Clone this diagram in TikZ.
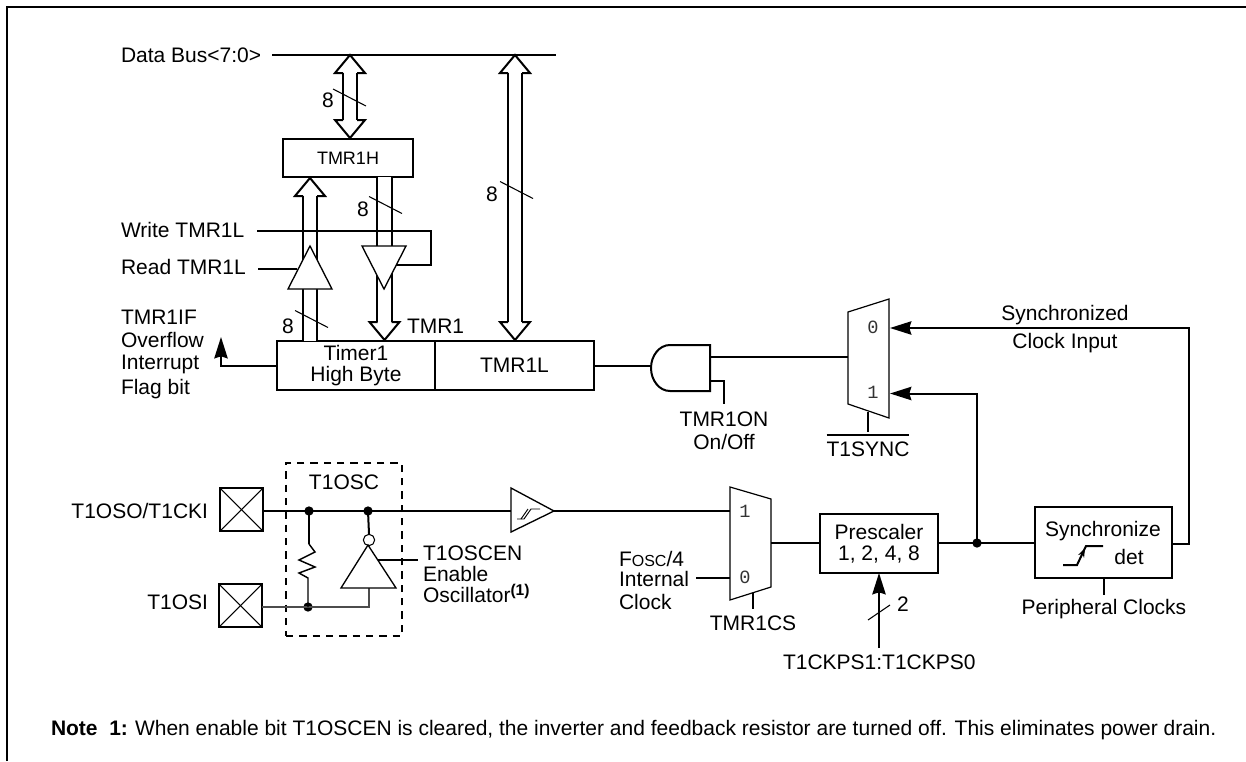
\documentclass[tikz,border=0pt]{standalone}
\usepackage{fontspec}
\setmainfont{Liberation Sans}
\setmonofont{Liberation Mono}
\usetikzlibrary{arrows.meta}

\newcommand{\txtfont}{\fontsize{15.75}{15.75}\selectfont}

\begin{document}
\begin{tikzpicture}[x=0.75pt, y=-0.75pt, >={Stealth[length=16pt, width=10pt, inset=1.5pt]},
    wire/.style={line width=1.5pt},
    thinwire/.style={line width=0.8pt},
    txt/.style={inner sep=0pt, outer sep=0pt, font=\txtfont, text height=11.3pt, text depth=0pt},
    regbox/.style={draw, line width=1.5pt, inner sep=0pt, outer sep=0pt, font=\txtfont, align=center},
    padbox/.style={draw, line width=1.5pt, inner sep=0pt, outer sep=0pt, minimum size=32pt},
    dot/.style={circle, fill=black, inner sep=0pt, outer sep=0pt, minimum size=7pt},
    gate/.style={draw, line width=1pt, fill=white},
    muxline/.style={draw, line width=0.9pt, fill=white},
    digit/.style={inner sep=0pt, font=\ttfamily\fontsize{14}{14}\selectfont, text=black!80},
    busline/.style={double, double distance=9.5pt, line width=1.5pt},
    pics/bustip/.style={code={\draw[wire] (-7,18) -- (-15,18) -- (0,0) -- (15,18) -- (7,18);}},
    pics/slash/.style={code={\draw[thinwire] (-16.5,-8.5) -- (16.5,8.5);}}]

\useasboundingbox (0,0) rectangle (1246,761);

% outer frame, open on two sides
\draw[wire] (6.5,761) -- (6.5,6.5) -- (1246,6.5);

% ── TOP: data bus and registers ───────────────────────────────────
\node[txt, anchor=west] (dbus) at (121,55) {Data Bus<7:0>};
\coordinate (dbusL) at (272,55);
\coordinate (dbusR) at (556,55);
\draw[wire] (dbusL) -- (dbusR);

\node[regbox, minimum width=97.5pt, minimum height=28.5pt, font=\fontsize{13.5}{14}\selectfont] (tmrh) at (348,158) {TMR1H};
\node[regbox, minimum width=118.5pt, minimum height=36.75pt] (timerhi) at (356,365.5) {Timer1\\High Byte};
\node[regbox, minimum width=119.25pt, minimum height=36.75pt] (tmrl) at (514.5,365.5) {TMR1L};

% hollow 8 bit buses
\coordinate (busAt) at (350,55);
\coordinate (busAb) at (350,138);
\draw[busline, shorten >=13.5pt, shorten <=13.5pt] (busAt) -- (busAb);
\pic at (busAt) {bustip};
\pic[yscale=-1] at (busAb) {bustip};

\coordinate (busBt) at (310,178);
\coordinate (busBb) at (310,341);
\draw[busline, shorten <=13.5pt] (busBt) -- (busBb);
\pic at (busBt) {bustip};

\coordinate (busCt) at (384.5,177);
\coordinate (busCb) at (384.5,340);
\draw[busline, shorten >=13.5pt] (busCt) -- (busCb);
\pic[yscale=-1] at (busCb) {bustip};

\coordinate (busDt) at (515,55);
\coordinate (busDb) at (515,340);
\draw[busline, shorten >=13.5pt, shorten <=13.5pt] (busDt) -- (busDb);
\pic at (busDt) {bustip};
\pic[yscale=-1] at (busDb) {bustip};

\pic at (349.5,97.5) {slash};
\node[txt] (w8a) at (328,100) {8};
\pic at (385.5,205) {slash};
\node[txt] (w8b) at (363,209) {8};
\pic at (311.5,319) {slash};
\node[txt] (w8c) at (288,326) {8};
\pic at (516.5,190) {slash};
\node[txt] (w8d) at (492,194) {8};

% read and write enables
\node[txt, anchor=west] (wrl) at (121,230) {Write TMR1L};
\node[txt, anchor=west] (rdl) at (121,267) {Read TMR1L};
\coordinate (wrS) at (257,231);
\coordinate (wrE) at (396,265);
\coordinate (rdS) at (258,269);
\coordinate (rdE) at (297,269);
\draw[wire] (wrS) -- (431,231) -- (431,265) -- (wrE);
\draw[wire] (rdS) -- (rdE);
\draw[gate] (310,246) -- (332,289) -- (288,289) -- cycle;
\draw[gate] (362,246) -- (406,246) -- (384,289) -- cycle;

\node[txt, anchor=west] (tmrlbl) at (407,326) {TMR1};

% overflow flag
\node[txt, anchor=west] (ifa) at (121,317) {TMR1IF};
\node[txt, anchor=west] (ifb) at (121,340) {Overflow};
\node[txt, anchor=west] (ifc) at (121,362) {Interrupt};
\node[txt, anchor=west] (ifd) at (121,387) {Flag bit};
\coordinate (iftip) at (221,337);
\draw[wire, ->] (timerhi.west) -| (iftip);

% ── RIGHT: gate and sync mux ──────────────────────────────────────
\coordinate (andin) at (651,366);
\coordinate (andout) at (710,357);
\coordinate (andon) at (710,381);
\coordinate (onstub) at (724,404);
\draw[wire] (tmrl.east |- andin) -- (andin);
\draw[wire] (670,345) -- (710,345) -- (710,391) -- (670,391)
    .. controls (659,391) and (651,380) .. (651,368)
    .. controls (651,356) and (659,345) .. (670,345);
\draw[wire] (andon) -| (onstub);
\node[txt] (onA) at (724,419) {TMR1ON};
\node[txt] (onB) at (724,442) {On/Off};

\draw[muxline] (848,312) -- (889,299) -- (889,418) -- (848,404) -- cycle;
\coordinate (muxAin) at (848,357);
\coordinate (muxAa) at (890,328);
\coordinate (muxAb) at (890,393.5);
\coordinate (muxAs) at (868,412);
\draw[thinwire] (andout) -- (muxAin);
\node[digit] (muxA0) at (873,327) {0};
\node[digit] (muxA1) at (873,392) {1};
\node[txt] (sync) at (868,449) {T1SYNC};
\draw[wire] (muxAs) -- (muxAs |- 0,432);
\draw[wire] ([yshift=5pt]sync.north west) -- ([yshift=5pt]sync.north east);

\node[txt] (syncA) at (1065,313) {Synchronized};
\node[txt] (syncB) at (1065,341) {Clock Input};

% ── BOTTOM: oscillator ────────────────────────────────────────────
\node[draw, dashed, line width=1.5pt, dash pattern=on 5.5pt off 4.5pt, inner sep=0pt,
      minimum width=87pt, minimum height=129.75pt] (oscbox) at (344,549.5) {};
\node[txt] (osclbl) at (344,482) {T1OSC};

\node[padbox] (padA) at (241.5,509.5) {};
\node[padbox] (padB) at (240.5,605.5) {};
\draw[thinwire] (padA.north west) -- (padA.south east);
\draw[thinwire] (padA.north east) -- (padA.south west);
\draw[thinwire] (padB.north west) -- (padB.south east);
\draw[thinwire] (padB.north east) -- (padB.south west);
\node[txt, anchor=east] (padAl) at (208,511) {T1OSO/T1CKI};
\node[txt, anchor=east] (padBl) at (208,602) {T1OSI};

\node[dot] (dotA) at (309,511) {};
\node[dot] (dotB) at (368,511) {};
\node[dot] (dotC) at (308,607) {};
\coordinate (trigin) at (511,511);
\coordinate (invbase) at (369,588);
\draw[wire] (padA.east |- dotA) -- (trigin);
\draw[wire, black!70] (padB.east |- dotC) -- (dotC.center) -| (invbase);

% feedback resistor
\draw[wire] (dotA.center) -- (309,544);
\draw[line width=1.1pt] (309,544) -- (315,552) -- (299,560) -- (315,567) -- (299,573) -- (308,578) -- (dotC.center);

% inverter
\node[draw, circle, fill=white, line width=0.8pt, inner sep=0pt, minimum size=8.5pt] (bub) at (369,540) {};
\draw[wire] (dotB.center) -- (bub.north);
\draw[gate] (368,545) -- (396,588) -- (341,588) -- cycle;
\coordinate (enS) at (378,560);
\coordinate (enE) at (418,560);
\draw[wire] (enS) -- (enE);
\node[txt, anchor=west] (enA) at (423,553) {T1OSCEN};
\node[txt, anchor=west] (enB) at (423,574) {Enable};
\node[txt, anchor=west] (enC) at (423,595) {Oscillator\raisebox{5pt}{\fontsize{11.7}{12}\selectfont\bfseries (1)}};

% schmitt trigger
\draw[gate] (511,488) -- (554,511) -- (511,532) -- cycle;
\draw[line width=0.7pt] (517,519) -- (524,519) -- (531,509) -- (540,509);
\draw[line width=0.7pt] (521,519) -- (528,509);
\coordinate (trigout) at (554,511);
\coordinate (muxBa) at (730,511);
\draw[wire] (trigout) -- (muxBa);

% clock select mux
\draw[muxline] (730,487) -- (771,499) -- (771,587) -- (730,600) -- cycle;
\node[digit] (muxB1) at (745,511) {1};
\node[digit] (muxB0) at (745,577) {0};
\node[txt, anchor=west] (foscA) at (619,559) {F{\fontsize{12}{12}\selectfont OSC}/4};
\node[txt, anchor=west] (foscB) at (619,579) {Internal};
\node[txt, anchor=west] (foscC) at (619,602) {Clock};
\coordinate (foscS) at (696,578);
\coordinate (muxBb) at (730,578);
\draw[wire] (foscS) -- (muxBb);
\coordinate (muxBs) at (753,593);
\draw[wire] (muxBs) -- (muxBs |- 0,609);
\node[txt] (cslbl) at (753,623) {TMR1CS};
\coordinate (muxBout) at (771,543);

% prescaler and synchronizer
\node[regbox, minimum width=88.5pt, minimum height=44.25pt] (pres) at (879,543.5) {Prescaler\\1, 2, 4, 8};
\node[regbox, minimum width=102.75pt, minimum height=53.25pt] (synbox) at (1103.5,542.5) {};
\node[txt] (synA) at (1103,529) {Synchronize};
\node[txt] (synB) at (1129,557) {det};
\draw[wire] (1063,565) -- (1077,565) -- (1086,546) -- (1103,546);
\draw[line width=0.8pt, -{Stealth[length=7pt, width=5pt]}] (1077,565) -- (1085,548);

\node[dot] (jct) at (977,543) {};
\draw[wire] (muxBout) -- (pres.west |- muxBout);
\draw[wire] (pres.east |- jct) -- (synbox.west |- jct);
\draw[wire, ->] (jct.center) |- (muxAb);
\coordinate (fbk) at (1189,544);
\draw[wire, ->] (synbox.east |- fbk) -- (fbk) |- (muxAa);

\coordinate (periS) at (1104,595);
\draw[wire] (synbox.south -| periS) -- (periS);
\node[txt] (peri) at (1104,607) {Peripheral Clocks};

% prescale select
\coordinate (psS) at (879,648);
\draw[wire, ->] (psS) -- (pres.south);
\draw[thinwire] (868,620) -- (890,605);
\node[txt] (w2) at (903,604) {2};
\node[txt, anchor=west] (pslbl) at (783,662) {T1CKPS1:T1CKPS0};

% footnote
\node[txt, anchor=west, font=\bfseries\txtfont] (noteA) at (51,728) {Note\ \ 1:};
\node[txt, anchor=west, font=\txtfont] (noteB) at (135,728) {When enable bit T1OSCEN is cleared, the inverter and feedback resistor are turned off. This eliminates power drain.};

\end{tikzpicture}
\end{document}
